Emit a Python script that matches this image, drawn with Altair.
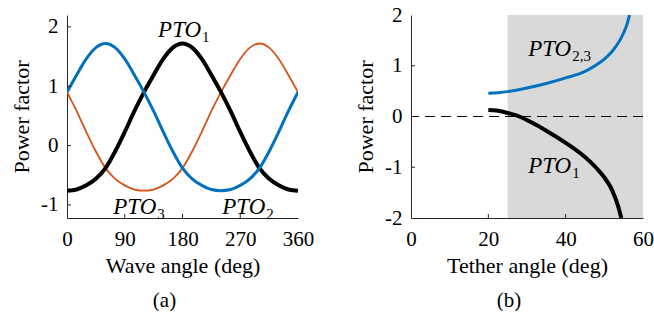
import altair as alt
import pandas as pd

# ---------------- data ----------------
# Panel (a): power factor vs wave angle
wave_angle = [0, 15, 30, 45, 60, 75, 90, 105, 120, 135, 150, 165, 180,
              195, 210, 225, 240, 255, 270, 285, 300, 315, 330, 345, 360]
pto1_wave = [-0.76, -0.74, -0.67, -0.56, -0.38, -0.10, 0.23, 0.58, 0.90, 1.19, 1.46, 1.65, 1.72,
             1.65, 1.46, 1.19, 0.90, 0.58, 0.23, -0.10, -0.38, -0.56, -0.67, -0.74, -0.76]
pto2_wave = [0.90, 1.19, 1.46, 1.65, 1.72, 1.65, 1.46, 1.19, 0.90, 0.58, 0.23, -0.10, -0.38,
             -0.56, -0.67, -0.74, -0.76, -0.74, -0.67, -0.56, -0.38, -0.10, 0.23, 0.58, 0.90]
pto3_wave = [0.90, 0.58, 0.23, -0.10, -0.38, -0.56, -0.67, -0.74, -0.76, -0.74, -0.67, -0.56, -0.38,
             -0.10, 0.23, 0.58, 0.90, 1.19, 1.46, 1.65, 1.72, 1.65, 1.46, 1.19, 0.90]

# Panel (b): power factor vs tether angle
tether_angle_23 = [20, 22.5, 25, 30, 35, 40, 45, 48, 50, 52, 54, 55, 56, 56.5]
pto23_tether = [0.46, 0.47, 0.49, 0.56, 0.65, 0.76, 0.89, 1.02, 1.13, 1.28, 1.50, 1.65, 1.85, 2.0]
tether_angle_1 = [20, 22, 25, 28, 31, 35, 40, 45, 48, 50, 52, 53.5, 54.4]
pto1_tether = [0.13, 0.12, 0.07, 0.0, -0.11, -0.28, -0.52, -0.80, -1.02, -1.20, -1.45, -1.75, -2.0]

shaded_from, shaded_to = 25, 60

# tick values
xticks_a = [0, 90, 180, 270, 360]
yticks_a = [-1, 0, 1, 2]
xticks_b = [0, 20, 40, 60]
yticks_b = [-2, -1, 0, 1, 2]

# labels (data coordinates of the left/baseline of "PTO")
labels_a = [
    {"x": 142, "y": 1.83, "main": "PTO", "sub": "1"},
    {"x": 72, "y": -1.15, "main": "PTO", "sub": "3"},
    {"x": 242, "y": -1.15, "main": "PTO", "sub": "2"},
]
labels_b = [
    {"x": 30.3, "y": 1.20, "main": "PTO", "sub": "2,3"},
    {"x": 30.3, "y": -1.11, "main": "PTO", "sub": "1"},
]

# ---------------- styling ----------------
FONT = "Liberation Serif"
BLUE = "#0072BD"
ORANGE = "#D95319"
W, H = 231, 203
LAB_SIZE = 23
SUB_DX = 44

wave_df = pd.DataFrame({
    "angle": wave_angle * 3,
    "pf": pto1_wave + pto2_wave + pto3_wave,
    "series": ["PTO1"] * len(wave_angle) + ["PTO2"] * len(wave_angle) + ["PTO3"] * len(wave_angle),
})

xa = alt.X("angle:Q", scale=alt.Scale(domain=[0, 360], nice=False),
           axis=alt.Axis(values=xticks_a, title="Wave angle (deg)", labelExpr="datum.value"))
ya = alt.Y("pf:Q", scale=alt.Scale(domain=[-1.22, 2.2], nice=False),
           axis=alt.Axis(values=yticks_a, title="Power factor", labelExpr="datum.value"))


def line(df, color, width):
    return alt.Chart(df).mark_line(color=color, strokeWidth=width, interpolate="monotone", clip=True)


def labels(df):
    main = alt.Chart(df).mark_text(font=FONT, fontSize=LAB_SIZE, fontStyle="italic", align="left",
                                   baseline="alphabetic").encode(
        x=alt.X("x:Q"), y=alt.Y("y:Q"), text="main:N")
    sub = alt.Chart(df).mark_text(font=FONT, fontSize=15, align="left", baseline="alphabetic",
                                  dx=SUB_DX, dy=5).encode(x=alt.X("x:Q"), y=alt.Y("y:Q"), text="sub:N")
    return main, sub


a_orange = line(wave_df[wave_df.series == "PTO3"], ORANGE, 1.8).encode(x=xa, y=ya)
a_black = line(wave_df[wave_df.series == "PTO1"], "black", 4).encode(x=xa, y=ya)
a_blue = line(wave_df[wave_df.series == "PTO2"], BLUE, 3).encode(x=xa, y=ya)
a_main, a_sub = labels(pd.DataFrame(labels_a))

a_yt = alt.Chart(pd.DataFrame({"v": yticks_a})).mark_rule(color="#262626", strokeWidth=1).encode(
    y=alt.Y("v:Q"), x=alt.value(0), x2=alt.value(4))
a_xt = alt.Chart(pd.DataFrame({"v": xticks_a[1:-1]})).mark_rule(color="#262626", strokeWidth=1).encode(
    x=alt.X("v:Q"), y=alt.value(H), y2=alt.value(H - 4))

panel_a = alt.layer(a_orange, a_black, a_blue, a_main, a_sub, a_yt, a_xt).properties(
    width=W, height=H,
    title=alt.TitleParams("(a)", orient="bottom", font=FONT, fontSize=21, fontWeight="normal",
                          anchor="middle", dx=-18, offset=14),
)

# panel b
b_blue_df = pd.DataFrame({"angle": tether_angle_23, "pf": pto23_tether})
b_black_df = pd.DataFrame({"angle": tether_angle_1, "pf": pto1_tether})

xb = alt.X("angle:Q", scale=alt.Scale(domain=[0, 60], nice=False),
           axis=alt.Axis(values=xticks_b, title="Tether angle (deg)", labelExpr="datum.value"))
yb = alt.Y("pf:Q", scale=alt.Scale(domain=[-2, 2], nice=False),
           axis=alt.Axis(values=yticks_b, title="Power factor", labelExpr="datum.value"))

shade = alt.Chart(pd.DataFrame({"x1": [shaded_from], "x2": [shaded_to], "y1": [-2], "y2": [2]})).mark_rect(
    color="#d9d9d9").encode(x=alt.X("x1:Q", scale=alt.Scale(domain=[0, 60], nice=False)), x2="x2:Q",
                            y=alt.Y("y1:Q", scale=alt.Scale(domain=[-2, 2], nice=False)), y2="y2:Q")
zero = alt.Chart(pd.DataFrame({"v": [0]})).mark_rule(color="black", strokeWidth=1, strokeDash=[10, 6]).encode(
    y=alt.Y("v:Q"))
b_blue = line(b_blue_df, BLUE, 3).encode(x=xb, y=yb)
b_black = line(b_black_df, "black", 4).encode(x=xb, y=yb)
b_main, b_sub = labels(pd.DataFrame(labels_b))

b_yt = alt.Chart(pd.DataFrame({"v": yticks_b[1:-1]})).mark_rule(color="#262626", strokeWidth=1).encode(
    y=alt.Y("v:Q"), x=alt.value(0), x2=alt.value(4))
b_xt = alt.Chart(pd.DataFrame({"v": xticks_b[1:-1]})).mark_rule(color="#262626", strokeWidth=1).encode(
    x=alt.X("v:Q"), y=alt.value(H), y2=alt.value(H - 4))

panel_b = alt.layer(shade, zero, b_blue, b_black, b_main, b_sub, b_yt, b_xt).properties(
    width=W + 1, height=H,
    title=alt.TitleParams("(b)", orient="bottom", font=FONT, fontSize=21, fontWeight="normal",
                          anchor="middle", dx=-18, offset=14),
)

chart = alt.hconcat(panel_a, panel_b, spacing=40).properties(
    padding={"left": 10, "top": 4, "right": 0, "bottom": 0},
).configure_view(stroke=None).configure_axis(
    grid=False, ticks=False, domainColor="#262626", domainWidth=1,
    labelFont=FONT, labelFontSize=21, labelColor="black", labelFlush=False,
    titleFont=FONT, titleFontSize=22, titleFontWeight="normal", titleColor="black",
).configure_axisX(labelPadding=10, titlePadding=6).configure_axisY(
    labelPadding=9, titlePadding=7, labelAlign="right", labelBaseline="middle")

chart.save("out.html", embed_options={"renderer": "svg", "actions": False})
